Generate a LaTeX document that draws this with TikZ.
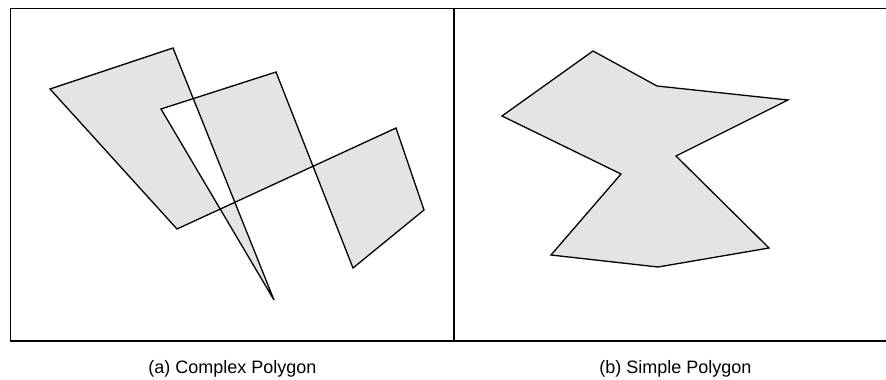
\documentclass[tikz,border=0pt]{standalone}
\usepackage{fontspec}
\setmainfont{Liberation Sans}
\usepackage{xcolor}

\definecolor{polyfill}{RGB}{228,228,228}

\begin{document}
\begin{tikzpicture}[
  x=1pt, y=-1pt,
  frame/.style={draw, line width=1.8pt},
  poly/.style={draw, fill=polyfill, line width=1.3pt, line join=miter, even odd rule},
  caption/.style={anchor=base, inner sep=0pt, font=\fontsize{18}{21}\selectfont}
]
  \useasboundingbox (0,0) rectangle (886,380);
  % panels
  \draw[frame] (886,8.5) -- (10.5,8.5) -- (10.5,341) -- (886,341);
  \draw[frame] (454,8.5) -- (454,341);
  % complex polygon
  \coordinate (a1) at (50,89);
  \coordinate (a2) at (173,48);
  \coordinate (a3) at (274,300);
  \coordinate (a4) at (161,109);
  \coordinate (a5) at (276,72);
  \coordinate (a6) at (353,268);
  \coordinate (a7) at (424,210);
  \coordinate (a8) at (396,128);
  \coordinate (a9) at (177,229);
  \path[poly] (a1) -- (a2) -- (a3) -- (a4) -- (a5) -- (a6) -- (a7) -- (a8) -- (a9) -- cycle;
  % simple polygon
  \coordinate (b1) at (593,51);
  \coordinate (b2) at (657,86);
  \coordinate (b3) at (788,100);
  \coordinate (b4) at (676,156);
  \coordinate (b5) at (769,248);
  \coordinate (b6) at (658,267);
  \coordinate (b7) at (551,255);
  \coordinate (b8) at (621,174);
  \coordinate (b9) at (502,116);
  \path[poly] (b1) -- (b2) -- (b3) -- (b4) -- (b5) -- (b6) -- (b7) -- (b8) -- (b9) -- cycle;
  % captions
  \node[caption] (capa) at (232.5,373) {(a) Complex Polygon};
  \node[caption] (capb) at (675.5,373) {(b) Simple Polygon};
\end{tikzpicture}
\end{document}
